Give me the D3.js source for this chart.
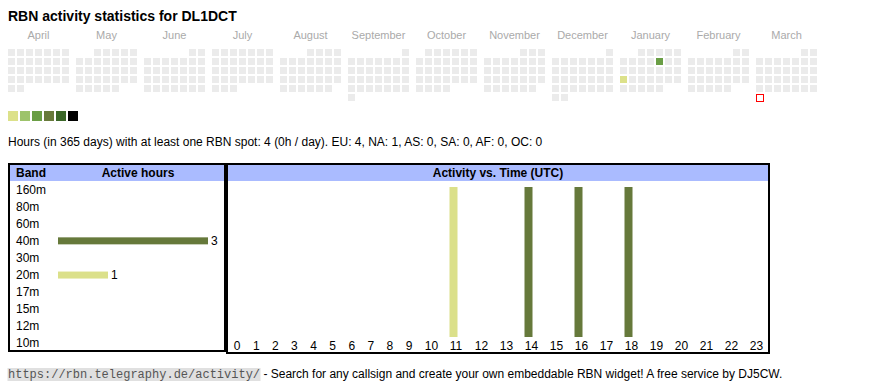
<!DOCTYPE html>
<html>
<head>
<meta charset="utf-8">
<script src="https://cdn.jsdelivr.net/npm/d3@7"></script>
<style>
  body { margin: 0; background: #fff; }
  svg { display: block; font-family: "Liberation Sans", Arial, sans-serif; }
</style>
</head>
<body>
<svg id="chart"></svg>
<script>
var width = 870;
var height = 390;

// data
var callsign = 'DL1DCT';
var firstMonth = new Date(2024, 3, 1);
var today = new Date(2025, 2, 31);
var dayActivity = [
  { date: '2025-01-10', hours: 3 },
  { date: '2025-01-20', hours: 1 }
];
var legendColors = ['#dce18a', '#9dc36b', '#6a9e45', '#687a3b', '#3b6728', '#000000'];
var bands = ['160m', '80m', '60m', '40m', '30m', '20m', '17m', '15m', '12m', '10m'];
var bandHours = [0, 0, 0, 3, 0, 1, 0, 0, 0, 0];
var bandColors = { '40m': '#66793b', '20m': '#dbe08a' };
var hours = d3.range(24);
var hourBand = [null, null, null, null, null, null, null, null, null, null, null, '20m',
  null, null, '40m', null, '40m', null, '40m', null, null, null, null, null];
var statsText = 'Hours (in 365 days) with at least one RBN spot: 4 (0h / day). EU: 4, NA: 1, AS: 0, SA: 0, AF: 0, OC: 0';

var svg = d3.select('#chart').attr('width', width).attr('height', height);

svg.append('text')
  .attr('x', 8).attr('y', 20.5)
  .style('font-size', '14px').style('font-weight', 'bold')
  .text('RBN activity statistics for ' + callsign);

// calendar
var cellSize = 7;
var cellStep = 9;
var monthX = d3.scaleLinear().domain([0, 12]).range([8, 8 + 12 * 68]);
var colX = d3.scaleLinear().domain([0, 7]).range([0, 7 * cellStep]);
var rowY = d3.scaleLinear().domain([0, 6]).range([49, 49 + 6 * cellStep]);
var parseDay = d3.timeParse('%Y-%m-%d');
var fmtDay = d3.timeFormat('%Y-%m-%d');
var activityByDay = {};
dayActivity.forEach(function(d) { activityByDay[fmtDay(parseDay(d.date))] = d.hours; });
var colorScale = d3.scaleOrdinal().domain([1, 2, 3, 4, 5, 6]).range(legendColors);

var months = d3.timeMonths(firstMonth, d3.timeMonth.offset(firstMonth, 12));
var monthG = svg.selectAll('.month').data(months).enter()
  .append('g').classed('month', true)
  .attr('transform', function(d, i) { return 'translate(' + monthX(i) + ',0)'; });

monthG.append('text')
  .attr('x', colX(3.5) - 1).attr('y', 38.5)
  .attr('text-anchor', 'middle')
  .style('font-size', '11px').style('fill', '#aaa')
  .text(d3.timeFormat('%B'));

monthG.selectAll('.day')
  .data(function(m) { return d3.timeDays(m, d3.timeMonth.offset(m, 1)); })
  .enter().append('rect').classed('day', true)
  .attr('x', function(d) { return colX((d.getDay() + 6) % 7); })
  .attr('y', function(d) { return rowY(d3.timeMonday.count(d3.timeMonth(d), d)); })
  .attr('width', cellSize).attr('height', cellSize)
  .style('fill', function(d) {
    if (+d === +today) return '#fff';
    var v = activityByDay[fmtDay(d)];
    return v ? colorScale(v) : '#ebebeb';
  })
  .style('stroke', function(d) { return +d === +today ? 'red' : 'none'; })
  .attr('transform', function(d) { return +d === +today ? 'translate(0.5,0.5)' : null; });

svg.selectAll('.legend').data(legendColors).enter()
  .append('rect').classed('legend', true)
  .attr('x', function(d, i) { return 8 + i * 12; })
  .attr('y', 111).attr('width', 10).attr('height', 10)
  .style('fill', function(d) { return d; });

svg.append('text')
  .attr('x', 8).attr('y', 146)
  .style('font-size', '12px')
  .text(statsText);

// band table
var bandBox = svg.append('g');
bandBox.append('rect').attr('x', 10).attr('y', 165).attr('width', 214).attr('height', 16).style('fill', '#aabbff');
bandBox.append('rect').attr('x', 9).attr('y', 164).attr('width', 216).attr('height', 187)
  .style('fill', 'none').style('stroke', '#000').style('stroke-width', 2);
bandBox.append('text').attr('x', 16).attr('y', 177)
  .style('font-size', '12px').style('font-weight', 'bold').text('Band');
bandBox.append('text').attr('x', 138).attr('y', 177).attr('text-anchor', 'middle')
  .style('font-size', '12px').style('font-weight', 'bold').text('Active hours');

var bandY = d3.scaleBand().domain(bands).range([181, 352]);
var hoursX = d3.scaleLinear().domain([0, d3.max(bandHours)]).range([58, 208]);

bandBox.selectAll('.band-label').data(bands).enter()
  .append('text').classed('band-label', true)
  .attr('x', 16)
  .attr('y', function(d) { return bandY(d) + bandY.bandwidth() / 2 + 4; })
  .style('font-size', '12px')
  .text(function(d) { return d; });

var bandData = bands.map(function(b, i) { return { band: b, hours: bandHours[i] }; })
  .filter(function(d) { return d.hours > 0; });
bandBox.selectAll('.band-bar').data(bandData).enter()
  .append('rect').classed('band-bar', true)
  .attr('x', hoursX(0))
  .attr('y', function(d) { return bandY(d.band) + bandY.bandwidth() / 2 - 3.5; })
  .attr('width', function(d) { return hoursX(d.hours) - hoursX(0); })
  .attr('height', 7)
  .style('fill', function(d) { return bandColors[d.band]; });
bandBox.selectAll('.band-value').data(bandData).enter()
  .append('text').classed('band-value', true)
  .attr('x', function(d) { return hoursX(d.hours) + 3; })
  .attr('y', function(d) { return bandY(d.band) + bandY.bandwidth() / 2 + 4; })
  .style('font-size', '12px')
  .text(function(d) { return d.hours; });

// time table
var timeBox = svg.append('g');
timeBox.append('rect').attr('x', 228).attr('y', 165).attr('width', 540).attr('height', 16).style('fill', '#aabbff');
timeBox.append('rect').attr('x', 227).attr('y', 164).attr('width', 542).attr('height', 189)
  .style('fill', 'none').style('stroke', '#000').style('stroke-width', 2);
timeBox.append('text').attr('x', 498).attr('y', 177).attr('text-anchor', 'middle')
  .style('font-size', '12px').style('font-weight', 'bold').text('Activity vs. Time (UTC)');

// columns sized like the table cells: wider for two digit labels
var colWidth = d3.scaleLinear().domain([1, 2]).range([19.1, 25]);
var colLeft = [0].concat(Array.from(d3.cumsum(hours, function(h) { return colWidth(String(h).length); })));
var hourX = d3.scaleLinear().domain([0, colLeft[24]]).range([228, 228 + colLeft[24]]);
var barY = d3.scaleLinear().domain([0, 1]).range([337, 187]);

timeBox.selectAll('.hour-label').data(hours).enter()
  .append('text').classed('hour-label', true)
  .attr('x', function(d) { return hourX(colLeft[d]) + 5.8; })
  .attr('y', 350)
  .style('font-size', '12px')
  .text(function(d) { return d; });

var hourData = hours.filter(function(h) { return hourBand[h]; });
timeBox.selectAll('.hour-bar').data(hourData).enter()
  .append('rect').classed('hour-bar', true)
  .attr('x', function(d) { return hourX(colLeft[d]) + 5.5; })
  .attr('y', barY(1))
  .attr('width', 8)
  .attr('height', barY(0) - barY(1))
  .style('fill', function(d) { return bandColors[hourBand[d]]; });

// footer
var link = 'https://rbn.telegraphy.de/activity/';
svg.append('rect')
  .attr('x', 7.5).attr('y', 368).attr('width', link.length * 7.2 + 1).attr('height', 13)
  .style('fill', '#e0e0e0');
var footer = svg.append('text').attr('x', 8).attr('y', 378).style('font-size', '12px');
footer.append('tspan')
  .style('font-family', '"Liberation Mono", monospace').style('fill', '#555')
  .text(link);
footer.append('tspan')
  .text(' - Search for any callsign and create your own embeddable RBN widget! A free service by DJ5CW.');
</script>
</body>
</html>
